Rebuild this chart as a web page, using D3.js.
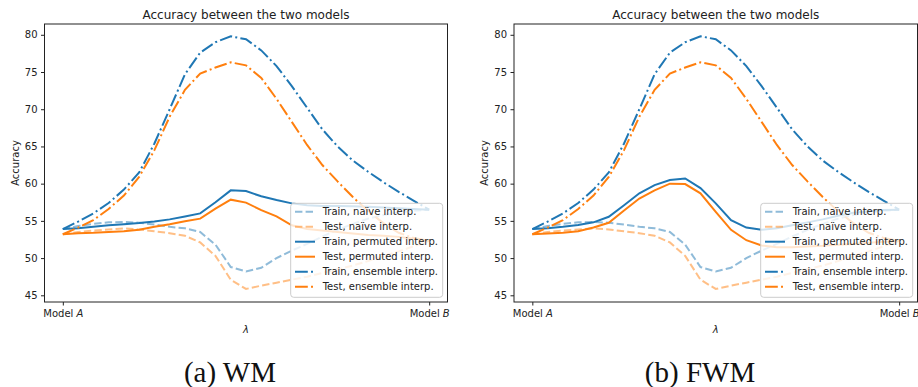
<!DOCTYPE html>
<html>
<head>
<meta charset="utf-8">
<script src="https://cdn.jsdelivr.net/npm/d3@7"></script>
<style>
  body { margin: 0; background: #fff; }
  svg { display: block; font-family: "DejaVu Sans", sans-serif; }
</style>
</head>
<body>
<svg id="chart" width="918" height="387"></svg>
<script>
// interpolation grid: 25 evenly spaced lambda values between model A and model B
const lambdas = d3.range(25).map((i) => i / 24);

// shared by both panels
const naiveTrain = [53.9, 54.3, 54.6, 54.8, 54.85, 54.75, 54.5, 54.2, 54.0, 53.5, 51.8, 48.8, 48.2, 48.7, 50.0, 51.0, 51.9, 52.9, 53.8, 54.6, 55.3, 55.8, 56.1, 56.35, 56.5];
const naiveTest = [53.2, 53.5, 53.7, 53.85, 54.0, 53.85, 53.6, 53.35, 53.0, 52.1, 50.3, 47.1, 45.85, 46.3, 46.7, 47.1, 47.5, 48.0, 48.5, 49.0, 49.6, 50.3, 50.9, 51.6, 52.3];
const ensTrain = [53.9, 54.9, 56.0, 57.4, 59.2, 61.5, 65.4, 70.0, 74.7, 77.6, 79.0, 79.8, 79.4, 77.9, 75.8, 73.1, 70.2, 67.3, 65.0, 63.1, 61.6, 60.2, 58.9, 57.7, 56.5];
const ensTest = [53.2, 54.1, 55.1, 56.6, 58.4, 60.9, 64.5, 69.0, 72.6, 74.8, 75.6, 76.3, 75.9, 74.2, 71.4, 68.3, 65.2, 62.5, 60.3, 58.2, 56.3, 54.7, 53.4, 52.7, 52.3];

// permuted interpolation, per method
const wmTrain = [53.9, 54.0, 54.2, 54.4, 54.55, 54.7, 54.9, 55.2, 55.6, 56.0, 57.5, 59.1, 59.0, 58.3, 57.8, 57.35, 57.1, 57.0, 57.0, 56.95, 56.9, 56.8, 56.7, 56.6, 56.5];
const wmTest = [53.2, 53.35, 53.4, 53.5, 53.6, 53.8, 54.2, 54.55, 54.95, 55.3, 56.65, 57.85, 57.45, 56.45, 55.6, 54.4, 53.9, 53.7, 53.5, 53.3, 53.1, 53.0, 52.85, 52.6, 52.3];
const fwmTrain = [53.9, 54.0, 54.2, 54.45, 54.8, 55.55, 57.1, 58.7, 59.8, 60.5, 60.7, 59.4, 57.35, 55.1, 54.1, 53.8, 54.0, 54.4, 54.8, 55.2, 55.7, 56.1, 56.3, 56.45, 56.5];
const fwmTest = [53.2, 53.3, 53.4, 53.6, 54.1, 54.75, 56.4, 58.0, 59.1, 60.0, 59.95, 58.7, 56.2, 53.8, 52.4, 51.7, 51.45, 51.45, 51.55, 51.65, 51.8, 51.9, 52.05, 52.2, 52.3];

const yTicks = [45, 50, 55, 60, 65, 70, 75, 80];
const xTicks = [0, 1];
const xTickNames = ["A", "B"];

const blue = "#1f77b4";
const orange = "#ff7f0e";
const plotTop = 24;
const plotBottom = 302;

const panels = [
  { caption: "(a) WM", left: 44.5, right: 447.5, captionX: 230, permTrain: wmTrain, permTest: wmTest },
  { caption: "(b) FWM", left: 514, right: 917.5, captionX: 700, permTrain: fwmTrain, permTest: fwmTest },
];

const svg = d3.select("#chart");

function drawPanel(p) {
  const x = d3.scaleLinear().domain([-0.05, 1.05]).range([p.left, p.right]);
  const y = d3.scaleLinear().domain([44.1, 81.45]).range([plotBottom, plotTop]);

  const series = [
    { label: "Train, naïve interp.", values: naiveTrain, color: blue, dash: "7.4,3.2", opacity: 0.5 },
    { label: "Test, naïve interp.", values: naiveTest, color: orange, dash: "7.4,3.2", opacity: 0.5 },
    { label: "Train, permuted interp.", values: p.permTrain, color: blue, dash: null, opacity: 1 },
    { label: "Test, permuted interp.", values: p.permTest, color: orange, dash: null, opacity: 1 },
    { label: "Train, ensemble interp.", values: ensTrain, color: blue, dash: "12.8,3.2,2,3.2", opacity: 1 },
    { label: "Test, ensemble interp.", values: ensTest, color: orange, dash: "12.8,3.2,2,3.2", opacity: 1 },
  ];

  const g = svg.append("g");

  const line = d3
    .line()
    .x((d, i) => x(lambdas[i]))
    .y((d) => y(d));

  g.append("g")
    .selectAll("path")
    .data(series)
    .join("path")
    .attr("fill", "none")
    .attr("stroke", (d) => d.color)
    .attr("stroke-opacity", (d) => d.opacity)
    .attr("stroke-width", 2)
    .attr("stroke-dasharray", (d) => d.dash)
    .attr("d", (d) => line(d.values));

  // y axis
  const yAxis = g
    .append("g")
    .attr("transform", `translate(${p.left},0)`)
    .call(d3.axisLeft(y).tickValues(yTicks).tickSize(3.5).tickPadding(3.5));
  yAxis.select(".domain").remove();
  yAxis.selectAll("text").attr("font-size", 10).attr("font-family", "DejaVu Sans").attr("fill", "#222");
  yAxis.selectAll("line").attr("stroke", "#222");

  // x axis
  const xAxis = g
    .append("g")
    .attr("transform", `translate(0,${plotBottom})`)
    .call(d3.axisBottom(x).tickValues(xTicks).tickSize(3.5).tickPadding(4.5));
  xAxis.select(".domain").remove();
  xAxis.selectAll("line").attr("stroke", "#222");
  xAxis
    .selectAll("text")
    .attr("font-size", 10)
    .attr("font-family", "DejaVu Sans")
    .attr("fill", "#222")
    .text(null)
    .each(function (d, i) {
      const t = d3.select(this);
      t.append("tspan").text("Model ");
      t.append("tspan").attr("font-style", "italic").text(xTickNames[i]);
    });

  // frame
  g.append("rect")
    .attr("x", p.left)
    .attr("y", plotTop)
    .attr("width", p.right - p.left)
    .attr("height", plotBottom - plotTop)
    .attr("fill", "none")
    .attr("stroke", "#222")
    .attr("stroke-width", 1);

  const cx = (p.left + p.right) / 2;

  g.append("text")
    .attr("x", cx)
    .attr("y", 18.5)
    .attr("text-anchor", "middle")
    .attr("font-size", 12)
    .attr("fill", "#222")
    .text("Accuracy between the two models");

  g.append("text")
    .attr("x", cx)
    .attr("y", 332.5)
    .attr("text-anchor", "middle")
    .attr("font-size", 10)
    .attr("font-style", "italic")
    .attr("fill", "#222")
    .text("λ");

  g.append("text")
    .attr("transform", `translate(${p.left - 26},${(plotTop + plotBottom) / 2}) rotate(-90)`)
    .attr("text-anchor", "middle")
    .attr("font-size", 10)
    .attr("fill", "#222")
    .text("Accuracy");

  // legend
  const lw = 152;
  const lh = 94;
  const legend = g.append("g").attr("transform", `translate(${p.right - 4.8 - lw},203.3)`);
  legend
    .append("rect")
    .attr("width", lw)
    .attr("height", lh)
    .attr("rx", 3)
    .attr("fill", "#fff")
    .attr("fill-opacity", 0.8)
    .attr("stroke", "#cccccc")
    .attr("stroke-width", 1);

  const item = legend
    .selectAll("g.item")
    .data(series)
    .join("g")
    .attr("class", "item")
    .attr("transform", (d, i) => `translate(0,${8.4 + i * 15})`);

  item
    .append("line")
    .attr("x1", 4.3)
    .attr("x2", 24.3)
    .attr("stroke", (d) => d.color)
    .attr("stroke-opacity", (d) => d.opacity)
    .attr("stroke-width", 2)
    .attr("stroke-dasharray", (d) => d.dash);

  item
    .append("text")
    .attr("x", 32)
    .attr("dy", "0.35em")
    .attr("font-size", 10)
    .attr("fill", "#222")
    .text((d) => d.label);

  // caption
  svg.append("text")
    .attr("x", p.captionX)
    .attr("y", 381.5)
    .attr("text-anchor", "middle")
    .attr("font-family", "Liberation Serif, serif")
    .attr("font-size", 29)
    .attr("fill", "#111")
    .text(p.caption);
}

panels.forEach(drawPanel);
</script>
</body>
</html>
